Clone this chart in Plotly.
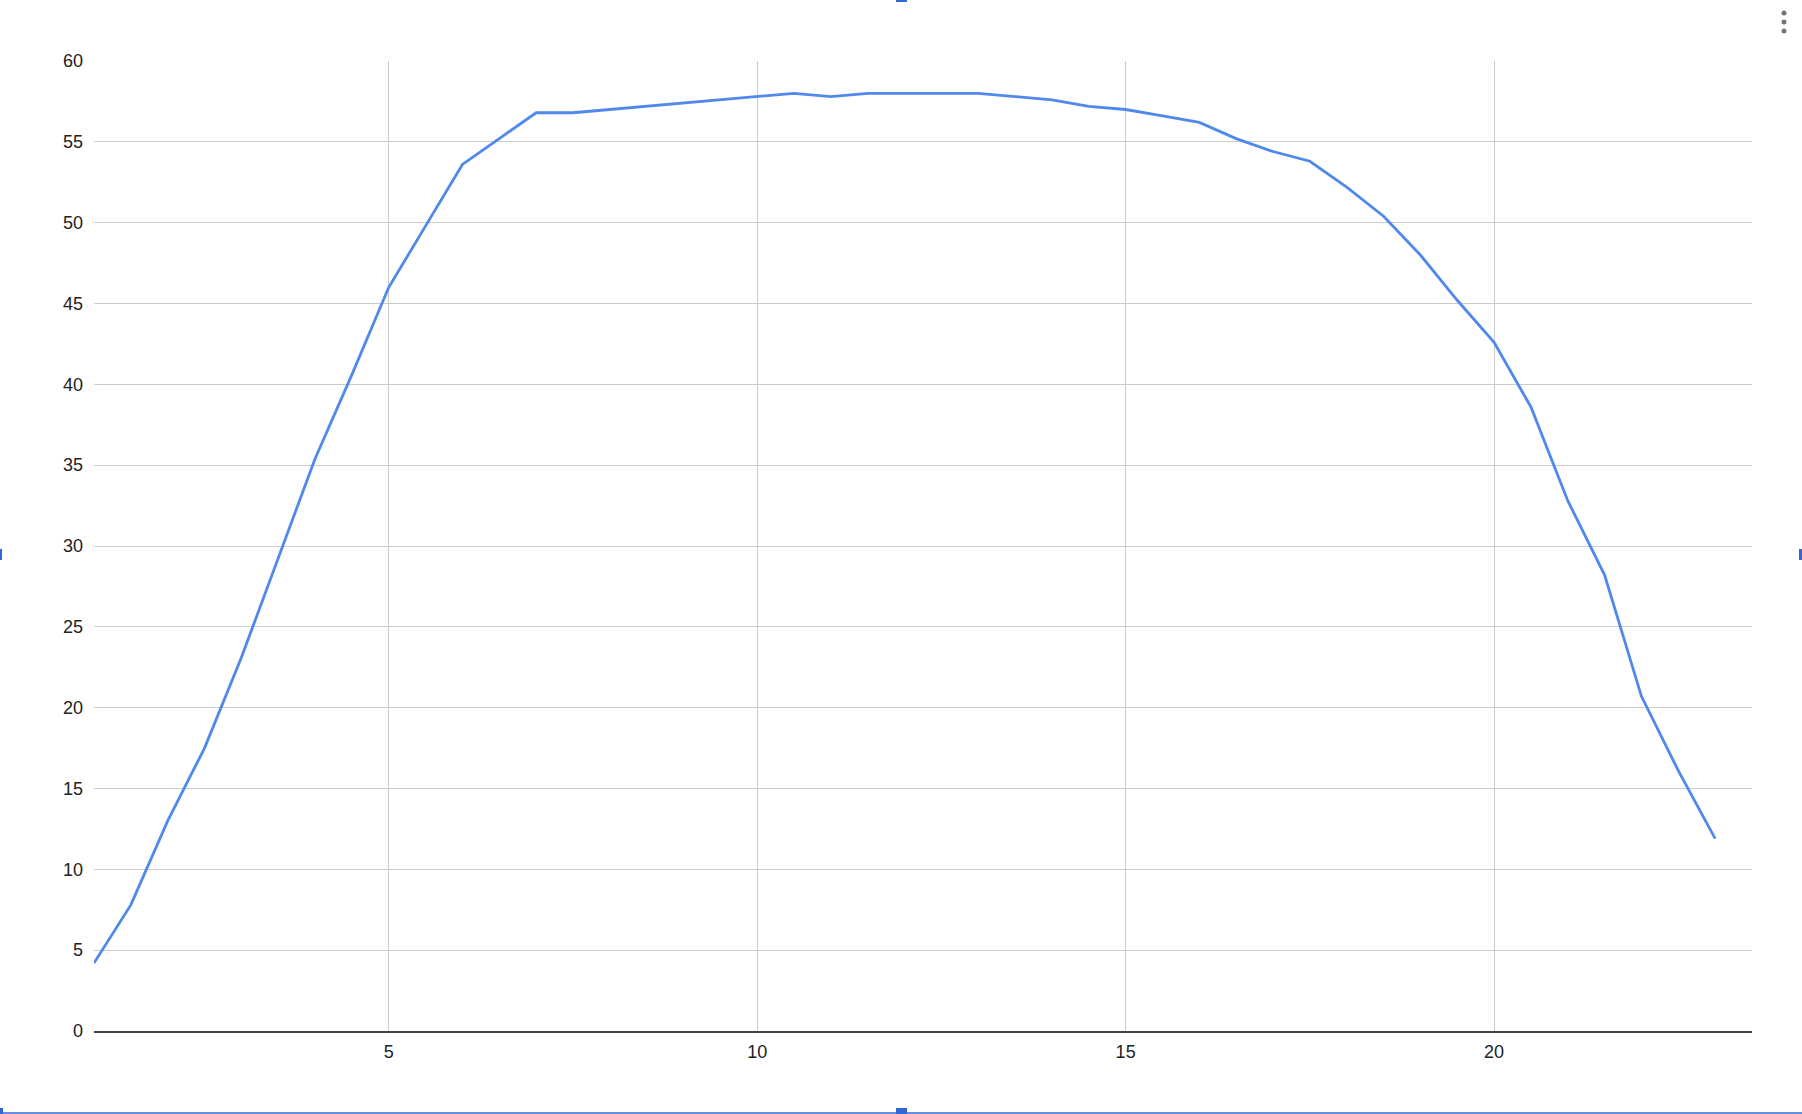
"""Line chart recreated from a spreadsheet chart screenshot."""

import plotly.graph_objects as go

# Data
x_vals = [1, 1.5, 2, 2.5, 3, 3.5, 4, 4.5, 5, 5.5, 6, 6.5, 7, 7.5, 8, 8.5, 9, 9.5,
          10, 10.5, 11, 11.5, 12, 12.5, 13, 13.5, 14, 14.5, 15, 15.5, 16, 16.5,
          17, 17.5, 18, 18.5, 19, 19.5, 20, 20.5, 21, 21.5, 22, 22.5, 23]
y_vals = [4.2, 7.8, 13.0, 17.5, 23.1, 29.3, 35.4, 40.6, 46.0, 49.8, 53.6, 55.2,
          56.8, 56.8, 57.0, 57.2, 57.4, 57.6, 57.8, 58.0, 57.8, 58.0, 58.0, 58.0,
          58.0, 57.8, 57.6, 57.2, 57.0, 56.6, 56.2, 55.2, 54.4, 53.8, 52.2, 50.4,
          48.0, 45.2, 42.6, 38.6, 32.8, 28.2, 20.7, 16.1, 11.9]
x_ticks = [5, 10, 15, 20]
y_ticks = [0, 5, 10, 15, 20, 25, 30, 35, 40, 45, 50, 55, 60]

W, H = 1802, 1114
L, R, T, B = 94, 50, 61, 83
PW, PH = W - L - R, H - T - B

LINE_BLUE = "#5088ec"
GRID = "#cccccc"
SEL_BLUE = "#3367d6"
FONT = "Liberation Sans, Arial, sans-serif"


def px_x(p):
    return (p - L) / PW


def px_y(p):
    return (H - B - p) / PH


fig = go.Figure()
fig.add_trace(go.Scatter(
    x=x_vals, y=y_vals, mode="lines",
    line=dict(color=LINE_BLUE, width=2.8),
    hoverinfo="x+y", showlegend=False,
))

# selection frame and handles of the chart in the sheet, plus the menu dots
shapes = [
    dict(type="line", xref="paper", yref="paper", x0=px_x(0), x1=px_x(W),
         y0=px_y(1113), y1=px_y(1113), line=dict(color=SEL_BLUE, width=1.5)),
]
for hx0, hy0, hx1, hy1 in [(0, 1108, 3, 1114), (896, 1108, 907, 1114),
                           (896, 0, 907, 2), (0, 549, 2, 560), (1799, 549, 1802, 560)]:
    shapes.append(dict(type="rect", xref="paper", yref="paper",
                       x0=px_x(hx0), x1=px_x(hx1), y0=px_y(hy1), y1=px_y(hy0),
                       fillcolor=SEL_BLUE, line=dict(width=0)))
for cy in (13, 22, 31):
    shapes.append(dict(type="circle", xref="paper", yref="paper",
                       x0=px_x(1781.5), x1=px_x(1786.5), y0=px_y(cy + 2.5), y1=px_y(cy - 2.5),
                       fillcolor="#757575", line=dict(width=0)))

fig.update_layout(
    width=W, height=H,
    margin=dict(l=L, r=R, t=T, b=B),
    paper_bgcolor="white", plot_bgcolor="white",
    font=dict(family=FONT, size=18, color="#222222"),
    shapes=shapes,
    xaxis=dict(
        range=[1, 23.5], tickvals=x_ticks, ticktext=[str(t) for t in x_ticks],
        showgrid=True, gridcolor=GRID, gridwidth=1.3, zeroline=False,
        showline=True, linecolor="#444444", linewidth=1.6,
        ticks="", ticklabelstandoff=4,
    ),
    yaxis=dict(
        range=[0, 60], tickvals=y_ticks, ticktext=[str(t) for t in y_ticks],
        showgrid=True, gridcolor=GRID, gridwidth=1.3, zeroline=False,
        showline=False, ticks="", ticklabelstandoff=10,
    ),
)

# the page should start at the very corner, like the screenshot
fig.write_html("out.html", config={"displayModeBar": False},
               post_script="document.body.style.margin='0';")
